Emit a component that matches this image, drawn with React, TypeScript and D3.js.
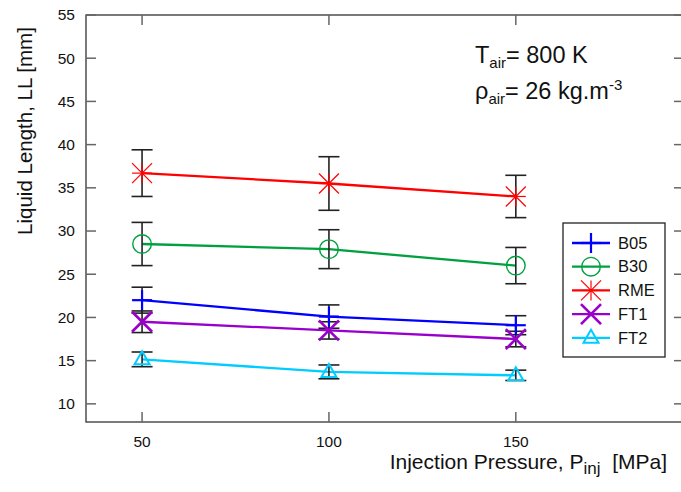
import React from "react";
import * as d3 from "d3";

// Injection pressures (MPa)
const pressures = [50, 100, 150];
const xTicks = [50, 100, 150];
const yTicks = [10, 15, 20, 25, 30, 35, 40, 45, 50, 55];

// Liquid length means and error half-widths (mm) per fuel
const fuelNames = ["B05", "B30", "RME", "FT1", "FT2"];
const b05 = [22.0, 20.1, 19.1];
const b05Err = [1.5, 1.35, 1.1];
const b30 = [28.5, 27.9, 26.0];
const b30Err = [2.5, 2.25, 2.1];
const rme = [36.7, 35.5, 34.0];
const rmeErr = [2.7, 3.1, 2.45];
const ft1 = [19.5, 18.5, 17.5];
const ft1Err = [1.25, 1.0, 0.9];
const ft2 = [15.15, 13.7, 13.3];
const ft2Err = [0.85, 0.8, 0.6];

type Marker = "plus" | "circle" | "asterisk" | "cross" | "triangle";

const series: { name: string; values: number[]; errs: number[]; color: string; marker: Marker }[] = [
  { name: fuelNames[0], values: b05, errs: b05Err, color: "#0000ff", marker: "plus" },
  { name: fuelNames[1], values: b30, errs: b30Err, color: "#00a040", marker: "circle" },
  { name: fuelNames[2], values: rme, errs: rmeErr, color: "#ff0000", marker: "asterisk" },
  { name: fuelNames[3], values: ft1, errs: ft1Err, color: "#9900cc", marker: "cross" },
  { name: fuelNames[4], values: ft2, errs: ft2Err, color: "#00ccff", marker: "triangle" },
];

const W = 681;
const H = 492;
const left = 86;
const right = 684;
const top = 15;
const bottom = 422;

const x = d3.scaleLinear().domain([35, 195]).range([left, right]);
const y = d3.scaleLinear().domain([7.9, 55]).range([bottom, top]);

const FONT = "'Liberation Sans', Arial, sans-serif";

function MarkerGlyph({ kind, cx, cy, color }: { kind: Marker; cx: number; cy: number; color: string }) {
  const s = 10;
  switch (kind) {
    case "plus":
      return (
        <g stroke={color} strokeWidth={2.2}>
          <line x1={cx - s} y1={cy} x2={cx + s} y2={cy} />
          <line x1={cx} y1={cy - s} x2={cx} y2={cy + s} />
        </g>
      );
    case "circle":
      return <circle cx={cx} cy={cy} r={9.3} fill="none" stroke={color} strokeWidth={1.4} />;
    case "asterisk":
      return (
        <g stroke={color} strokeWidth={1.2}>
          <line x1={cx - s} y1={cy} x2={cx + s} y2={cy} />
          <line x1={cx} y1={cy - s} x2={cx} y2={cy + s} />
          <line x1={cx - s} y1={cy - s} x2={cx + s} y2={cy + s} />
          <line x1={cx - s} y1={cy + s} x2={cx + s} y2={cy - s} />
        </g>
      );
    case "cross":
      return (
        <g stroke={color} strokeWidth={2.6}>
          <line x1={cx - s} y1={cy - s} x2={cx + s} y2={cy + s} />
          <line x1={cx - s} y1={cy + s} x2={cx + s} y2={cy - s} />
        </g>
      );
    case "triangle":
      return (
        <path
          d={`M${cx},${cy - 8}L${cx + 7.5},${cy + 5}L${cx - 7.5},${cy + 5}Z`}
          fill="none"
          stroke={color}
          strokeWidth={2}
        />
      );
  }
}

export default function App() {
  const line = d3
    .line<[number, number]>()
    .x((d) => x(d[0]))
    .y((d) => y(d[1]));

  const legX = 563;
  const legY = 223;
  const legW = 102;
  const legH = 134;
  const legStep = 23.7;

  return (
    <svg
      width={W}
      height={H}
      style={{ position: "absolute", left: 0, top: 0, background: "#fff" }}
      fontFamily={FONT}
    >
      {/* frame */}
      <rect x={left} y={top} width={right - left} height={bottom - top} fill="none" stroke="#333" strokeWidth={1.3} />

      {/* y ticks, inward on both sides */}
      {yTicks.map((t) => (
        <g key={`y${t}`} stroke="#666" strokeWidth={1.5}>
          <line x1={left} x2={left + 10} y1={y(t)} y2={y(t)} />
          <line x1={right} x2={right - 10} y1={y(t)} y2={y(t)} />
        </g>
      ))}
      {yTicks.map((t) => (
        <text key={`yl${t}`} x={75} y={y(t)} dy="0.35em" textAnchor="end" fontSize={15.5} fill="#111">
          {t}
        </text>
      ))}

      {/* x ticks, inward on both sides */}
      {xTicks.map((t) => (
        <g key={`x${t}`} stroke="#666" strokeWidth={1.5}>
          <line x1={x(t)} x2={x(t)} y1={bottom} y2={bottom - 10} />
          <line x1={x(t)} x2={x(t)} y1={top} y2={top + 10} />
        </g>
      ))}
      {xTicks.map((t) => (
        <text key={`xl${t}`} x={x(t)} y={447} textAnchor="middle" fontSize={15.5} fill="#111">
          {t}
        </text>
      ))}

      {/* axis titles */}
      <text x={667} y={469} textAnchor="end" fontSize={21} fill="#111">
        Injection Pressure, P<tspan fontSize={17} dy={5}>inj</tspan>
        <tspan dy={-5}>{"\u00a0\u00a0[MPa]"}</tspan>
      </text>
      <text
        transform={`translate(32,131) rotate(-90)`}
        textAnchor="middle"
        fontSize={20.5}
        fill="#111"
      >
        Liquid Length, LL [mm]
      </text>

      {/* conditions */}
      <text x={475} y={63} fontSize={23.5} fill="#111">
        T<tspan fontSize={15} dy={5}>air</tspan>
        <tspan dy={-5}>= 800 K</tspan>
      </text>
      <text x={475} y={99} fontSize={23.5} fill="#111">
        ρ<tspan fontSize={15} dy={5}>air</tspan>
        <tspan dy={-5}>= 26 kg.m</tspan>
        <tspan fontSize={15} dy={-9}>-3</tspan>
      </text>

      {/* series lines */}
      {series.map((s) => (
        <path
          key={`l${s.name}`}
          d={line(pressures.map((p, i) => [p, s.values[i]]) as [number, number][]) || ""}
          fill="none"
          stroke={s.color}
          strokeWidth={2.3}
        />
      ))}

      {/* error bars */}
      {series.map((s) =>
        pressures.map((p, i) => {
          const cx = x(p);
          const y0 = y(s.values[i] - s.errs[i]);
          const y1 = y(s.values[i] + s.errs[i]);
          return (
            <g key={`e${s.name}${p}`} stroke="#222" strokeWidth={1.6}>
              <line x1={cx} x2={cx} y1={y0} y2={y1} />
              <line x1={cx - 10.5} x2={cx + 10.5} y1={y0} y2={y0} />
              <line x1={cx - 10.5} x2={cx + 10.5} y1={y1} y2={y1} />
            </g>
          );
        })
      )}

      {/* markers */}
      {series.map((s) =>
        pressures.map((p, i) => (
          <MarkerGlyph key={`m${s.name}${p}`} kind={s.marker} cx={x(p)} cy={y(s.values[i])} color={s.color} />
        ))
      )}

      {/* legend */}
      <rect x={legX} y={legY} width={legW} height={legH} fill="#fff" stroke="#222" strokeWidth={1.3} />
      {series.map((s, i) => {
        const ly = legY + 20 + i * legStep;
        return (
          <g key={`lg${s.name}`}>
            <line x1={572} x2={610} y1={ly} y2={ly} stroke={s.color} strokeWidth={2.3} />
            <MarkerGlyph kind={s.marker} cx={591} cy={ly} color={s.color} />
            <text x={618} y={ly} dy="0.35em" fontSize={16.5} fill="#111">
              {s.name}
            </text>
          </g>
        );
      })}
    </svg>
  );
}
